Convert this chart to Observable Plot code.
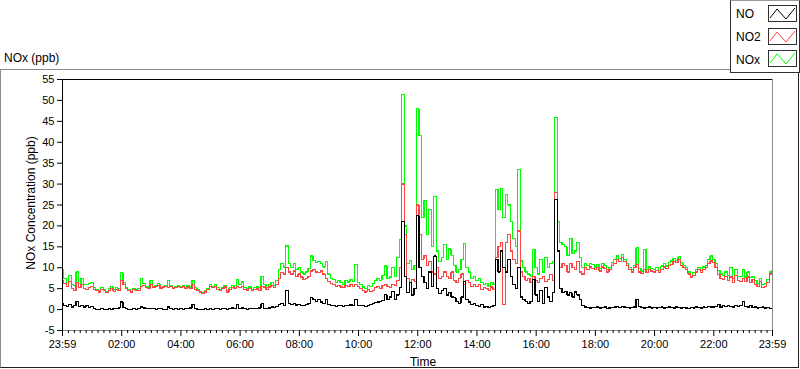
<!DOCTYPE html>
<html>
<head>
<meta charset="utf-8">
<script src="https://cdn.jsdelivr.net/npm/d3@7"></script>
<script src="https://cdn.jsdelivr.net/npm/@observablehq/plot@0.6"></script>
<style>
  body { margin: 0; background: #fff; font-family: "Liberation Sans", Arial, sans-serif; }
  #wrap { position: relative; width: 800px; height: 369px; overflow: hidden; background: #fff; }
  #frame { position: absolute; left: 0; top: 69px; width: 797px; height: 297px;
    border-left: 1px solid #8c8c8c; border-top: 1px solid #8c8c8c;
    border-right: 1px solid #202020; border-bottom: 1px solid #202020; }
  #chart { position: absolute; left: 0; top: 0; }
  .lbl { position: absolute; font-size: 12px; color: #000; white-space: nowrap; line-height: 14px; }
  #legend { position: absolute; left: 730px; top: 0; width: 68px; height: 71px; background: #fff;
    border-left: 1px solid #303030; border-bottom: 1px solid #303030; border-top: 1px solid #9a9a9a;
    border-right: 1px solid #303030; z-index: 3; }
  .lgt { position: absolute; left: 5px; font-size: 12px; line-height: 14px; }
  .sw { position: absolute; left: 37px; width: 27px; height: 15px; border: 1px solid #303030; background: #fff; }
  .sw svg { display: block; }
</style>
</head>
<body>
<div id="wrap">
  <div id="frame"></div>
  <div id="chart"></div>
  <div class="lbl" style="left:4px;top:51px;">NOx (ppb)</div>
  <div class="lbl" id="ylab" style="left:31px;top:203px;transform:translate(-50%,-50%) rotate(-90deg);">NOx Concentration (ppb)</div>
  <div class="lbl" style="left:423px;top:355px;transform:translateX(-50%);">Time</div>
  <div id="legend"></div>
</div>
<script>
// Series names and colours
const seriesNames = ["NO", "NO2", "NOx"];
const seriesColors = ["#000000", "#ff4444", "#00ff00"];

// X tick labels (minutes after start of day)
const xTickMinutes = [0, 120, 240, 360, 480, 600, 720, 840, 960, 1080, 1200, 1320, 1439];
const xTickLabels = ["23:59", "02:00", "04:00", "06:00", "08:00", "10:00", "12:00", "14:00", "16:00", "18:00", "20:00", "22:00", "23:59"];
const yTicks = [-5, 0, 5, 10, 15, 20, 25, 30, 35, 40, 45, 50, 55];

// NO2 (ppb), one value per 5 minutes, 00:00 .. 23:55, then 23:59
const no2 = [
  7.0, 6.2, 5.5, 6.8, 5.0, 4.5, 6.5, 5.2, 6.0, 5.0, 4.8, 5.3,
  5.5, 4.8, 4.5, 4.2, 4.8, 4.5, 4.0, 4.6, 5.0, 4.4, 4.8, 4.5,
  7.0, 6.0, 5.0, 4.5, 4.2, 4.8, 4.5, 4.6, 5.5, 5.8, 5.2, 5.0,
  6.0, 5.2, 5.5, 5.8, 5.0, 5.4, 5.6, 5.2, 5.5, 5.0, 5.3, 5.6,
  5.2, 5.5, 5.0, 5.4, 5.0, 6.0, 4.8, 4.5, 4.2, 3.8, 4.2, 4.8,
  5.5, 5.2, 5.6, 4.8, 4.5, 5.0, 5.4, 4.2, 4.8, 5.3, 5.0, 5.5,
  5.2, 5.5, 4.8, 4.6, 5.0, 4.5, 4.8, 4.9, 4.6, 5.6, 5.4, 4.8,
  5.4, 5.8, 5.2, 6.0, 7.5, 8.8, 8.5, 10.0, 9.0, 8.5, 9.2, 8.0,
  8.5, 7.8, 7.2, 7.5, 8.0, 9.2, 9.5, 9.0, 8.8, 9.2, 8.5, 7.5,
  6.8, 6.2, 6.0, 5.6, 5.8, 5.4, 5.2, 5.8, 5.5, 6.0, 5.6, 6.0,
  5.5, 5.0, 4.5, 4.2, 4.8, 4.4, 4.6, 5.2, 5.5, 5.0, 5.8, 6.0,
  5.5, 5.2, 6.0, 5.8, 7.0, 10.0, 30.0, 18.0, 7.5, 6.5, 7.2, 6.8,
  25.0, 18.0, 12.0, 13.0, 10.5, 11.5, 9.0, 8.5, 10.0, 7.5, 8.0, 9.0,
  8.0, 7.5, 9.0, 7.0, 6.5, 7.5, 8.5, 6.0, 7.0, 6.5, 5.5, 6.0,
  5.5, 6.0, 4.8, 5.2, 5.0, 4.6, 5.4, 4.8, 12.4, 15.0, 16.0, 1.2,
  16.0, 18.0, 14.0, 12.0, 11.0, 18.8, 9.0, 8.0, 7.0, 7.5, 6.5, 8.0,
  7.0, 6.5, 7.5, 8.0, 6.8, 7.2, 8.4, 7.0, 28.0, 14.0, 10.0, 11.0,
  10.5, 9.0, 11.0, 10.0, 9.5, 11.5, 9.0, 8.5, 10.0, 9.5, 10.2, 9.8,
  9.5, 10.0, 9.2, 10.2, 9.8, 9.0, 9.5, 10.5, 11.0, 12.0, 11.5, 12.4,
  11.5, 10.5, 9.5, 9.0, 10.0, 10.8, 9.0, 8.6, 9.5, 8.8, 9.6, 9.2,
  9.0, 9.4, 8.8, 9.6, 10.2, 9.8, 10.5, 10.8, 11.5, 11.2, 12.0, 10.5,
  10.0, 9.5, 8.5, 7.6, 8.2, 9.0, 9.5, 8.8, 9.6, 10.0, 11.0, 11.6,
  11.2, 10.0, 8.4, 7.5, 7.2, 8.0, 7.0, 7.8, 6.5, 8.2, 7.0, 6.8,
  7.5, 6.8, 7.8, 6.5, 7.2, 6.0, 5.5, 6.8, 5.2, 5.6, 6.5, 8.5,
  8.8
];

// NO (ppb)
const no = [
  1.5, 1.0, 0.8, 1.2, 0.6, 1.0, 2.0, 0.8, 1.0, 0.6, 0.9, 0.5,
  0.8, 0.3, 0.1, 0.0, 0.2, 0.1, 0.0, 0.2, 0.1, 0.3, 0.2, 0.4,
  1.8, 0.5, 0.2, 0.1, 0.0, 0.2, 0.1, 0.3, 0.6, 0.4, 0.2, 0.3,
  0.3, 0.2, 0.1, 0.3, 0.2, 0.1, 0.0, 0.6, 0.2, 0.1, 0.2, 0.1,
  0.2, 0.1, 0.3, 0.2, 0.4, 1.2, 0.3, 0.1, 0.0, 0.1, 0.2, 0.1,
  0.2, 0.1, 0.3, 0.2, 0.1, 0.2, 0.3, 0.1, 0.2, 0.4, 0.2, 1.2,
  0.3, 0.4, 0.2, 0.1, 0.3, 0.2, 0.2, 0.3, 0.4, 1.4, 0.3, 0.2,
  0.4, 0.6, 0.5, 0.8, 1.2, 1.5, 1.0, 4.5, 1.5, 1.2, 1.4, 1.1,
  1.2, 1.0, 1.0, 1.2, 1.5, 2.8, 2.5, 2.0, 2.4, 1.8, 1.5, 2.4,
  1.2, 1.0, 1.0, 0.8, 1.0, 0.9, 0.8, 1.0, 0.9, 1.1, 1.0, 2.4,
  1.0, 1.0, 0.9, 0.8, 1.0, 1.2, 1.5, 1.6, 1.8, 2.0, 2.2, 3.6,
  2.5, 3.0, 4.4, 2.5, 3.5, 5.2, 21.0, 8.0, 4.0, 6.5, 3.5, 5.0,
  22.4, 10.0, 8.0, 6.5, 5.0, 9.0, 5.5, 12.8, 5.0, 3.8, 4.5, 5.0,
  3.5, 4.0, 3.0, 2.8, 2.0, 1.5, 3.0, 6.8, 2.5, 1.8, 1.2, 1.5,
  1.0, 0.8, 1.2, 0.6, 0.8, 0.5, 0.7, 1.0, 12.0, 9.0, 14.0, 10.0,
  9.0, 12.0, 8.0, 6.0, 5.0, 10.0, 3.0, 2.5, 2.0, 1.5, 2.0, 7.2,
  3.5, 2.0, 4.5, 1.5, 5.2, 3.0, 2.0, 4.0, 26.4, 14.0, 5.0, 4.0,
  4.4, 3.5, 4.0, 3.0, 4.2, 3.5, 2.5, 1.0, 0.6, 0.5, 0.4, 0.5,
  0.5, 0.6, 0.4, 0.5, 0.6, 0.3, 0.4, 0.5, 0.6, 0.8, 0.5, 0.7,
  0.6, 0.5, 0.4, 0.5, 0.6, 2.4, 0.8, 0.5, 0.4, 0.5, 0.6, 0.4,
  0.5, 0.4, 0.5, 0.6, 0.4, 0.5, 0.6, 0.5, 0.4, 0.6, 0.5, 0.4,
  0.5, 0.4, 0.3, 0.5, 0.4, 0.6, 0.5, 0.4, 0.6, 0.5, 0.8, 0.6,
  0.6, 0.8, 1.2, 0.6, 0.9, 0.7, 1.0, 0.8, 0.6, 0.9, 0.7, 1.0,
  2.0, 0.8, 0.6, 0.9, 0.5, 0.6, 0.4, 0.5, 0.6, 0.4, 0.5, 0.3,
  0.3
];

// NOx (ppb)
const nox = [
  9.5, 7.5, 6.5, 8.2, 6.0, 5.8, 9.0, 6.2, 7.5, 6.0, 6.0, 6.2,
  6.5, 5.2, 4.8, 4.5, 5.2, 4.8, 4.3, 5.0, 5.5, 4.8, 5.2, 5.0,
  8.8, 6.5, 5.2, 4.8, 4.4, 5.0, 4.8, 5.0, 7.4, 6.2, 5.5, 5.4,
  7.0, 5.6, 5.8, 6.2, 5.3, 5.6, 5.8, 7.0, 5.8, 5.2, 5.6, 5.8,
  5.5, 5.8, 5.3, 5.8, 5.4, 7.0, 5.2, 4.8, 4.4, 4.0, 4.5, 5.0,
  6.0, 5.5, 6.0, 5.2, 4.8, 5.3, 5.8, 4.5, 5.2, 5.8, 5.3, 7.2,
  6.0, 6.6, 5.2, 4.9, 5.4, 4.8, 5.2, 5.4, 5.2, 8.0, 6.0, 5.2,
  6.0, 6.5, 5.8, 7.0, 9.5, 11.0, 10.2, 15.2, 11.0, 10.0, 11.0, 9.5,
  10.0, 9.0, 8.5, 9.0, 9.8, 12.8, 11.8, 11.2, 11.5, 11.0, 10.2, 11.4,
  8.5, 7.5, 7.2, 6.5, 7.0, 6.5, 6.0, 7.0, 6.6, 7.2, 6.8, 10.8,
  6.5, 6.0, 5.4, 5.0, 5.8, 5.6, 6.2, 7.0, 7.5, 7.0, 8.2, 10.4,
  7.5, 7.8, 10.0, 8.0, 12.4, 16.8, 51.5, 20.0, 11.0, 11.7, 9.5, 10.5,
  48.0, 41.7, 22.0, 26.0, 18.0, 24.0, 15.0, 27.0, 14.0, 11.5, 12.5, 15.6,
  12.0, 14.5, 13.0, 10.5, 9.0, 9.5, 12.0, 15.8, 10.0, 9.0, 7.5, 8.0,
  7.0, 7.5, 6.4, 6.0, 6.2, 5.5, 6.5, 6.0, 28.8, 24.0, 29.0, 22.0,
  27.6, 25.0, 21.0, 17.0, 15.0, 33.4, 11.6, 10.0, 9.0, 8.5, 8.0, 14.4,
  10.0, 8.5, 12.0, 9.0, 12.4, 10.0, 11.0, 11.5, 46.0, 21.0, 16.0, 15.5,
  15.0, 13.0, 17.0, 13.5, 14.0, 16.0, 12.5, 10.0, 11.0, 10.5, 11.0, 10.8,
  10.2, 10.8, 9.8, 11.0, 10.5, 9.5, 10.0, 11.2, 12.0, 12.8, 12.2, 13.2,
  12.0, 11.0, 10.0, 9.5, 10.5, 14.8, 9.8, 9.2, 14.4, 9.5, 10.2, 9.8,
  9.6, 10.0, 9.4, 10.4, 11.0, 10.4, 11.2, 11.6, 12.2, 11.8, 12.6, 11.2,
  10.5, 10.0, 9.0, 8.0, 8.8, 9.6, 10.0, 9.3, 10.2, 10.5, 12.0, 12.8,
  12.0, 11.0, 9.4, 8.5, 8.2, 9.0, 8.2, 10.0, 7.4, 9.5, 8.0, 8.0,
  9.5, 7.8, 9.0, 7.6, 8.0, 7.0, 6.2, 7.5, 6.0, 6.2, 7.2, 9.0,
  9.2
];

// sample times: every 5 minutes, last sample at 23:59
const minutes = no2.map((_, i) => Math.min(i * 5, 1439));
const rows = minutes.map((m, i) => ({m, no: no[i], no2: no2[i], nox: nox[i]}));

const minorTicks = d3.range(0, 1440, 12).filter(m => m % 120 !== 0);
const labelByMinute = new Map(xTickMinutes.map((m, i) => [m, xTickLabels[i]]));

const chart = Plot.plot({
  width: 800,
  height: 369,
  marginLeft: 62,
  marginRight: 28,
  marginTop: 79,
  marginBottom: 39,
  style: {background: "transparent", fontFamily: "'Liberation Sans', Arial, sans-serif", fontSize: "11px", color: "#000", overflow: "visible"},
  x: {domain: [0, 1439], axis: null},
  y: {domain: [-5, 55], axis: null},
  marks: [
    Plot.lineY(rows, {x: "m", y: "nox", stroke: seriesColors[2], strokeWidth: 1.2, curve: "step", shapeRendering: "crispEdges"}),
    Plot.lineY(rows, {x: "m", y: "no2", stroke: seriesColors[1], strokeWidth: 1.2, curve: "step", shapeRendering: "crispEdges"}),
    Plot.lineY(rows, {x: "m", y: "no", stroke: seriesColors[0], strokeWidth: 1.2, curve: "step", shapeRendering: "crispEdges"}),
    Plot.ruleX([1439], {stroke: "#8c8c8c", shapeRendering: "crispEdges"}),
    Plot.ruleY([-5], {stroke: "#8c8c8c", shapeRendering: "crispEdges"}),
    Plot.ruleY([55], {stroke: "#000", shapeRendering: "crispEdges"}),
    Plot.ruleX([0], {stroke: "#000", shapeRendering: "crispEdges"}),
    Plot.axisY({ticks: yTicks, tickSize: 5, tickPadding: 3, label: null, tickFormat: d => String(d)}),
    Plot.axisX({ticks: minorTicks, tickSize: 3, tickFormat: () => "", label: null}),
    Plot.axisX({ticks: xTickMinutes, tickSize: 6, tickPadding: 4, label: null, tickFormat: d => labelByMinute.get(d)})
  ]
});
document.getElementById("chart").appendChild(chart);

// legend
const legend = document.getElementById("legend");
const tops = [6, 29, 52];
const swTops = [4, 27, 49];
seriesNames.forEach((name, i) => {
  const t = document.createElement("div");
  t.className = "lgt";
  t.style.top = tops[i] + "px";
  t.textContent = name;
  legend.appendChild(t);
  const s = document.createElement("div");
  s.className = "sw";
  s.style.top = swTops[i] + "px";
  s.innerHTML = `<svg width="27" height="15"><polyline points="1,12 8,3 17,13 26,2" fill="none" stroke="${seriesColors[i]}" stroke-width="1"/></svg>`;
  legend.appendChild(s);
});
</script>
</body>
</html>
